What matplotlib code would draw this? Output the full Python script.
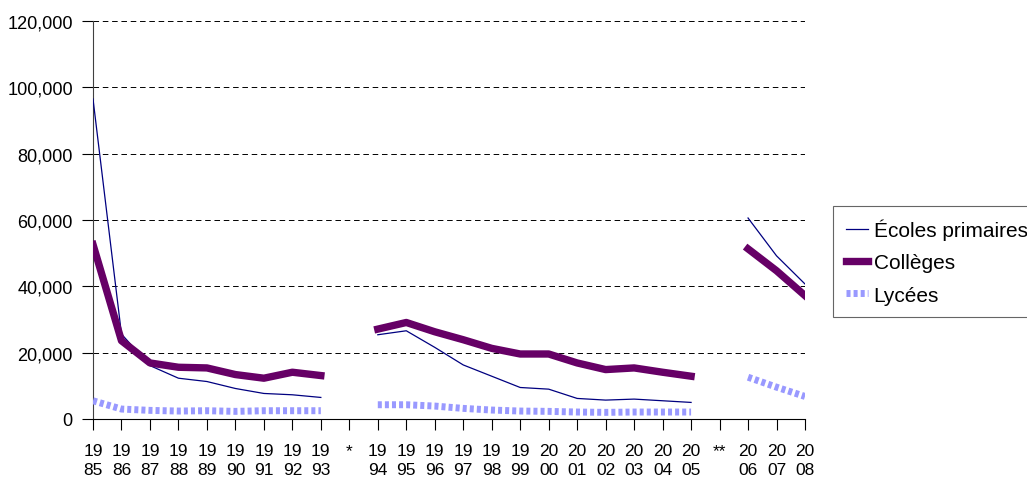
import numpy as np
import matplotlib
matplotlib.use("Agg")
import matplotlib.pyplot as plt
from matplotlib.ticker import FuncFormatter

plt.rcParams['font.family'] = ['Liberation Sans', 'DejaVu Sans']
plt.rcParams['lines.scale_dashes'] = False

nan = np.nan
categories = ["19\n85", "19\n86", "19\n87", "19\n88", "19\n89", "19\n90", "19\n91", "19\n92", "19\n93",
              "*",
              "19\n94", "19\n95", "19\n96", "19\n97", "19\n98", "19\n99", "20\n00", "20\n01", "20\n02",
              "20\n03", "20\n04", "20\n05",
              "**",
              "20\n06", "20\n07", "20\n08"]

ecoles = [96500, 25600, 16100, 12300, 11300, 9200, 7700, 7300, 6500,
          nan,
          25400, 26600, 21600, 16300, 12900, 9500, 9000, 6200, 5700, 6000, 5500, 5000,
          nan,
          60600, 49200, 40700]
colleges = [52600, 23600, 16900, 15600, 15400, 13400, 12300, 14100, 13100,
            nan,
            27100, 29100, 26300, 23900, 21300, 19600, 19600, 16900, 14900, 15400, 14100, 12900,
            nan,
            51300, 44700, 37200]
lycees = [5500, 3000, 2600, 2400, 2500, 2300, 2500, 2500, 2500,
          nan,
          4300, 4300, 3900, 3200, 2700, 2400, 2300, 2100, 2000, 2100, 2100, 2100,
          nan,
          12600, 9600, 6800]

fig = plt.figure(figsize=(10.27, 4.81), dpi=100)
ax = fig.add_axes([93/1027, 61/481, (805-93)/1027, 398/481])

x = np.arange(len(categories))
ax.plot(x, ecoles, color='#000080', lw=0.9, label='Écoles primaires', zorder=3)
ax.plot(x, colleges, color='#660066', lw=5.3, label='Collèges', zorder=4)
ax.plot(x, lycees, color='#9999FF', lw=5.0, dashes=(2.9, 2.2), label='Lycées', zorder=3)

ax.set_xlim(0, len(categories) - 1)
ax.set_ylim(0, 120000)
ax.set_yticks(np.arange(0, 120001, 20000))
ax.yaxis.set_major_formatter(FuncFormatter(lambda v, p: f"{int(v):,}"))
ax.set_xticks(x)
ax.set_xticklabels(categories, fontsize=12.5, linespacing=1.34)
ax.tick_params(axis='y', labelsize=13.1, length=8, width=0.8, pad=6.5, color='black')
ax.tick_params(axis='x', length=7.6, width=0.8, pad=9.5, color='black')

ax.grid(axis='y', color='black', linestyle=(0, (4, 2.7)), linewidth=0.7)
ax.set_axisbelow(True)
for s in ['top', 'right']:
    ax.spines[s].set_visible(False)
ax.spines['left'].set_color('#404040')
ax.spines['bottom'].set_color('black')
ax.spines['left'].set_linewidth(0.8)
ax.spines['bottom'].set_linewidth(0.8)

leg = fig.legend(loc='upper left', bbox_to_anchor=(833/1027, 1 - 207/481),
                 fontsize=15, frameon=True, fancybox=False, shadow=False,
                 handlelength=1.1, handletextpad=0.25, borderpad=0.6,
                 labelspacing=0.64, borderaxespad=0)
leg.get_frame().set_edgecolor('#404040')
leg.get_frame().set_linewidth(0.8)

fig.savefig('out.png', dpi=100)
